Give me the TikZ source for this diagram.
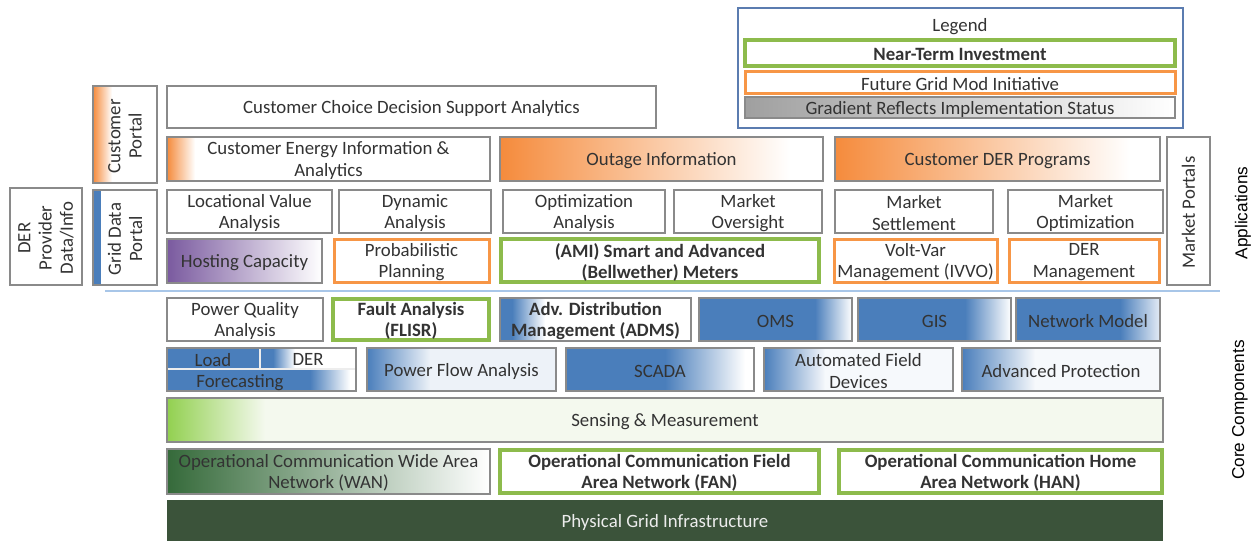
\documentclass[tikz,border=0pt]{standalone}
\usepackage{fontspec}
\setmainfont{Carlito}
\newfontfamily\arialfont{Liberation Sans}
\usepackage{tikz}
\usetikzlibrary{positioning}
\definecolor{boxgray}{HTML}{8A8A8A}
\definecolor{txtgray}{HTML}{333333}
\definecolor{ngreen}{HTML}{8DBB4C}
\definecolor{forange}{HTML}{F79646}
\definecolor{gorange}{HTML}{F58B3C}
\definecolor{cblue}{HTML}{4A7EBB}
\definecolor{hpurple}{HTML}{7A5A9F}
\definecolor{lgreen}{HTML}{92D050}
\definecolor{pgreen}{HTML}{F4F9EE}
\definecolor{wgreen}{HTML}{356A3A}
\definecolor{dgreen}{HTML}{3B533A}
\definecolor{sepblue}{HTML}{A8C6E8}
\definecolor{legblue}{HTML}{5B7CB0}
\tikzset{box/.style = {draw=boxgray, line width=0.75pt},
         nearterm/.style = {draw=ngreen, line width=2pt},
         future/.style = {draw=forange, line width=1.5pt},
         txt/.style = {text=txtgray, align=center, inner sep=0pt, yshift=-0.8pt,
                       font=\fontsize{9.4}{10.6}\selectfont},
         btxt/.style = {txt, font=\fontsize{9.4}{10.6}\selectfont\bfseries},
         side/.style = {text=black, rotate=90,
                        font=\fontsize{8.6}{10}\selectfont\arialfont}}

\begin{document}
\begin{tikzpicture}[x=0.5pt, y=-0.5pt]
  \useasboundingbox (0,0) rectangle (1251,541);
  \fill[white] (0,0) rectangle (1251,541);
  % legend
  \draw[draw=legblue, line width=1pt] (738,8) rectangle (1183,128);
  \node[txt] (legend) at (960,25) {Legend};
  \draw[nearterm] (745,40) rectangle (1175,66) node[midway, btxt] (lnear) {Near-Term Investment};
  \draw[future] (745,71) rectangle (1175,93) node[midway, txt] (lfuture) {Future Grid Mod Initiative};
  \shade[left color=gray!75, right color=white] (745,97) rectangle (1175,118);
  \draw[box] (745,97) rectangle (1175,118) node[midway, txt] (lgrad) {Gradient Reflects Implementation Status};

  % portals
  \shade[left color=gorange, right color=white] (93,86) rectangle (112,183);
  \draw[box] (93,86) rectangle (157,183) node[midway, txt, rotate=90] (cportal) {Customer\\Portal};
  \fill[cblue] (93,190) rectangle (101,285);
  \draw[box] (93,190) rectangle (157,285) node[midway, txt, rotate=90] (gportal) {Grid Data\\Portal};
  \draw[box] (10,188) rectangle (82,285) node[midway, txt, rotate=90] (derinfo) {DER\\Provider\\Data/Info};
  \draw[box] (1167,137) rectangle (1210,285) node[midway, txt, rotate=90] (mportal) {Market Portals};

  % applications
  \draw[box] (167,86) rectangle (656,128) node[midway, txt] (ccdsa) {Customer Choice Decision Support Analytics};
  \shade[left color=gorange, right color=white] (167,137) rectangle (195,181);
  \draw[box] (167,137) rectangle (490,181) node[midway, txt] (ceia) {Customer Energy Information \&\\Analytics};
  \shade[left color=gorange, right color=white] (500,137) rectangle (790,181);
  \draw[box] (500,137) rectangle (823,181) node[midway, txt] (outage) {Outage Information};
  \shade[left color=gorange, right color=white] (835,137) rectangle (1130,181);
  \draw[box] (835,137) rectangle (1160,181) node[midway, txt] (cder) {Customer DER Programs};

  \draw[box] (167,190) rectangle (332,233) node[midway, txt] (lva) {Locational Value\\Analysis};
  \draw[box] (339,190) rectangle (491,233) node[midway, txt] (dyn) {Dynamic\\Analysis};
  \draw[box] (503,190) rectangle (665,233) node[midway, txt] (opt) {Optimization\\Analysis};
  \draw[box] (674,190) rectangle (822,233) node[midway, txt] (mover) {Market\\Oversight};
  \draw[box] (835,190) rectangle (993,233) node[midway, txt] (mset) {Market\\Settlement};
  \draw[box] (1008,190) rectangle (1163,233) node[midway, txt] (mopt) {Market\\Optimization};

  \shade[left color=hpurple, right color=white] (167,239) rectangle (322,283);
  \draw[box] (167,239) rectangle (322,283) node[midway, txt] (hosting) {Hosting Capacity};
  \draw[future] (334,239) rectangle (489,282) node[midway, txt] (prob) {Probabilistic\\Planning};
  \draw[nearterm] (501,239) rectangle (819,282) node[midway, btxt] (ami) {(AMI) Smart and Advanced\\(Bellwether) Meters};
  \draw[future] (834,239) rectangle (997,282) node[midway, txt] (ivvo) {Volt-Var\\Management (IVVO)};
  \draw[future] (1009,239) rectangle (1159,282) node[midway, txt] (derm) {DER\\Management};

  \draw[sepblue, line width=1pt] (105,291) -- (1220,291);
  \node[side] (apps) at (1243,213) {Applications};
  \node[side] (core) at (1240,410) {Core Components};

  % core components
  \draw[box] (167,298) rectangle (323,341) node[midway, txt] (pqa) {Power Quality\\Analysis};
  \draw[nearterm] (333,299) rectangle (489,340) node[midway, btxt] (flisr) {Fault Analysis\\(FLISR)};
  \fill[cblue] (500,298) rectangle (512,341);
  \shade[left color=cblue, right color=white] (512,298) rectangle (545,341);
  \draw[box] (500,298) rectangle (691,341) node[midway, btxt] (adms) {Adv. Distribution\\Management (ADMS)};
  \fill[cblue] (699,298) rectangle (815,341);
  \shade[left color=cblue, right color=white] (815,298) rectangle (852,341);
  \draw[box] (699,298) rectangle (852,341) node[midway, txt] (oms) {OMS};
  \fill[cblue] (858,298) rectangle (965,341);
  \shade[left color=cblue, right color=white] (965,298) rectangle (1011,341);
  \draw[box] (858,298) rectangle (1011,341) node[midway, txt] (gis) {GIS};
  \fill[cblue] (1016,298) rectangle (1120,341);
  \shade[left color=cblue, right color=white!85!cblue] (1120,298) rectangle (1160,341);
  \draw[box] (1016,298) rectangle (1160,341) node[midway, txt] (netm) {Network Model};

  \fill[cblue] (167,348) rectangle (273,369);
  \shade[left color=cblue, right color=white] (273,348) rectangle (295,369);
  \fill[cblue] (167,369) rectangle (310,391);
  \shade[left color=cblue, right color=white] (310,369) rectangle (350,391);
  \draw[white!85!boxgray, line width=0.6pt] (167,369) -- (356,369) (260,348) -- (260,369);
  \draw[box] (167,348) rectangle (356,391);
  \node[txt] (load) at (213,358) {Load};
  \node[txt] (derf) at (308,358) {DER};
  \node[txt] (fcast) at (240,381) {Forecasting};
  \shade[left color=cblue, right color=white!90!cblue] (367,348) rectangle (430,391);
  \fill[white!90!cblue] (430,348) rectangle (556,391);
  \draw[box] (367,348) rectangle (556,391) node[midway, txt] (pfa) {Power Flow Analysis};
  \fill[cblue] (566,348) rectangle (665,391);
  \shade[left color=cblue, right color=white] (665,348) rectangle (745,391);
  \draw[box] (566,348) rectangle (754,391) node[midway, txt] (scada) {SCADA};
  \shade[left color=cblue, right color=white!95!cblue] (764,348) rectangle (825,391);
  \fill[white!95!cblue] (825,348) rectangle (953,391);
  \draw[box] (764,348) rectangle (953,391) node[midway, txt] (afd) {Automated Field\\Devices};
  \shade[left color=cblue, right color=white!95!cblue] (962,348) rectangle (1035,391);
  \fill[white!95!cblue] (1035,348) rectangle (1160,391);
  \draw[box] (962,348) rectangle (1160,391) node[midway, txt] (aprot) {Advanced Protection};

  \shade[left color=lgreen, right color=pgreen] (167,398) rectangle (265,442);
  \fill[pgreen] (265,398) rectangle (1163,442);
  \draw[box] (167,398) rectangle (1163,442) node[midway, txt] (sense) {Sensing \& Measurement};

  \shade[left color=wgreen, right color=white] (167,449) rectangle (490,494);
  \draw[box] (167,449) rectangle (490,494) node[midway, txt] (wan) {Operational Communication Wide Area\\Network (WAN)};
  \draw[nearterm] (500,450) rectangle (819,493) node[midway, btxt] (fan) {Operational Communication Field\\Area Network (FAN)};
  \draw[nearterm] (839,450) rectangle (1162,493) node[midway, btxt] (han) {Operational Communication Home\\Area Network (HAN)};

  \fill[dgreen] (167,500) rectangle (1163,541);
  \node[txt, text=white!85!gray] (pgi) at (665,521) {Physical Grid Infrastructure};
\end{tikzpicture}
\end{document}
